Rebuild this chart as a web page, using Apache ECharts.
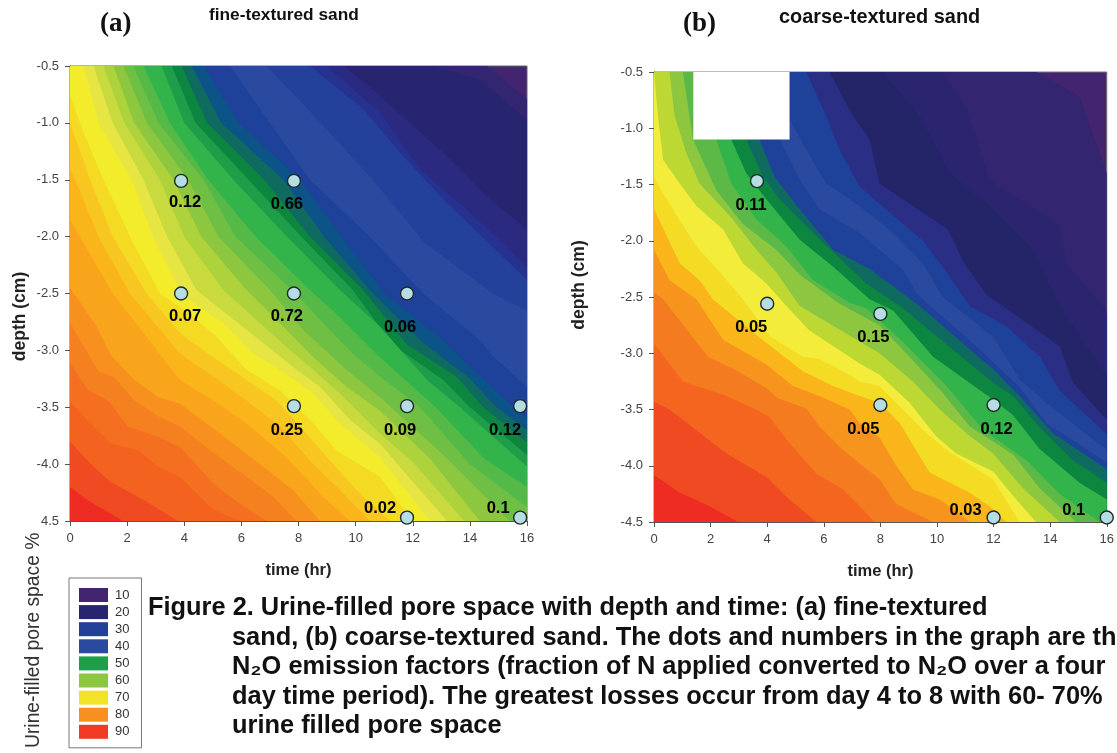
<!DOCTYPE html>
<html><head><meta charset="utf-8">
<style>html,body{margin:0;padding:0;background:#fff;overflow:hidden}#c{width:1117px;height:753px}</style>
<script src="https://cdn.jsdelivr.net/npm/echarts@6/dist/echarts.min.js"></script>
</head><body><div id="c"></div>
<script>
const timeTicks = [0,2,4,6,8,10,12,14,16];
const depthLabelsFine = ['-0.5','-1.0','-1.5','-2.0','-2.5','-3.0','-3.5','-4.0','4.5'];
const depthLabelsCoarse = ['-0.5','-1.0','-1.5','-2.0','-2.5','-3.0','-3.5','-4.0','-4.5'];
const legendLevels = ['10','20','30','40','50','60','70','80','90'];
const legendColors = ['#42246f','#272470','#233f98','#2a4aa0','#1f9e49','#8dc63f','#f3e326','#f7901e','#f03a24'];
const fineBandColors = ['#ee2c24','#f04a23','#f3621f','#f47020','#f5801f','#f7901e','#f9a51c','#fab51a','#f8c620','#f5da24','#f3ec2a','#e6e544','#c8da3d','#aed23c','#8dc63f','#6fbf44','#55b948','#32b44a','#1f9e49','#0d8640','#0f6b5f','#0c5488','#1e4199','#2a4aa0','#23409a','#273190','#2a2a80','#272470','#33256f'];
const coarseBandColors = ['#ee2c24','#f04a23','#f4661f','#f47b20','#f7941e','#fab51a','#f4dc24','#f3ec3a','#bdd833','#8dc63f','#5cb947','#32b44a','#0d8640','#0f6b5f','#1e4199','#2a4aa0','#1e4199','#2a2e85','#242468','#2b2570','#33256f'];
const topColor = '#42246f';
const fineContours = [
 [[0,-4.2],[.63,-4.32],[1.86,-4.5]],
 [[0,-3.8],[.69,-3.99],[1.39,-4.15],[2.61,-4.32],[3.78,-4.5]],
 [[0,-3.45],[.63,-3.62],[1.45,-3.82],[2.4,-3.88],[3.08,-4.02],[3.85,-4.11],[5.02,-4.4],[5.95,-4.5]],
 [[0,-3.11],[.63,-3.35],[1.33,-3.44],[2.03,-3.67],[3.08,-3.76],[3.85,-3.85],[5.02,-4.17],[5.95,-4.35],[6.9,-4.5]],
 [[0,-2.76],[.98,-3.18],[1.56,-3.24],[2.26,-3.44],[3.08,-3.58],[3.85,-3.67],[5.02,-3.9],[6.18,-4.11],[7.12,-4.29],[7.93,-4.5]],
 [[0,-2.45],[.93,-2.79],[1.45,-3.05],[2.26,-3.26],[3.08,-3.41],[3.85,-3.47],[5.25,-3.73],[6.65,-4.0],[7.82,-4.23],[8.75,-4.5]],
 [[0,-1.85],[1.5,-2.5],[2.68,-2.88],[3.85,-3.26],[5.02,-3.44],[6.18,-3.64],[7.58,-3.94],[8.87,-4.29],[9.8,-4.5]],
 [[0,-1.41],[.18,-1.5],[1.0,-2.0],[2.1,-2.5],[3.85,-3.03],[5.02,-3.23],[6.18,-3.44],[7.35,-3.67],[8.52,-4.0],[9.45,-4.23],[10.5,-4.5]],
 [[0,-1.0],[.7,-1.5],[1.5,-2.0],[2.68,-2.5],[3.85,-2.85],[5.02,-3.06],[6.18,-3.26],[7.23,-3.44],[8.17,-3.7],[9.22,-4.0],[10.03,-4.23],[11.2,-4.5]],
 [[0,-.76],[.5,-1.1],[1.17,-1.5],[2.2,-2.05],[3.15,-2.5],[4.2,-2.68],[5.13,-2.88],[6.18,-3.17],[7.35,-3.35],[8.4,-3.61],[9.33,-3.88],[10.85,-4.11],[12.0,-4.5]],
 [[.47,-.5],[1.0,-1.0],[2.16,-1.5],[2.9,-2.0],[3.91,-2.5],[4.67,-2.65],[5.37,-2.76],[6.42,-3.03],[7.35,-3.17],[8.52,-3.38],[9.45,-3.64],[10.85,-3.94],[12.6,-4.5]],
 [[.82,-.5],[1.5,-1.0],[2.57,-1.5],[3.4,-2.0],[4.43,-2.47],[5.48,-2.68],[6.65,-2.91],[7.93,-3.17],[8.75,-3.32],[9.8,-3.61],[10.85,-3.82],[13.2,-4.5]],
 [[1.17,-.5],[1.9,-1.0],[3.15,-1.5],[4.0,-2.0],[5.37,-2.47],[6.3,-2.68],[7.58,-2.97],[8.52,-3.17],[9.45,-3.38],[10.85,-3.73],[12,-3.98],[13.8,-4.5]],
 [[1.52,-.5],[2.25,-1.0],[3.62,-1.5],[4.6,-2.0],[6.18,-2.47],[7.23,-2.73],[8.52,-3.06],[9.68,-3.32],[10.85,-3.53],[12.6,-3.95],[14.35,-4.5]],
 [[1.87,-.5],[2.7,-1.0],[4.14,-1.5],[5.2,-2],[7.0,-2.47],[8.17,-2.82],[9.68,-3.17],[10.85,-3.41],[13.2,-3.95],[15.4,-4.5]],
 [[2.22,-.5],[3.1,-1.0],[4.67,-1.5],[5.8,-2],[7.9,-2.5],[8.75,-2.73],[9.9,-3.03],[10.85,-3.23],[12.25,-3.5],[14,-4],[16,-4.38]],
 [[2.57,-.5],[3.5,-1],[4.84,-1.5],[6.5,-2],[8.4,-2.47],[9.33,-2.68],[10.85,-3.06],[12.8,-3.5],[14.5,-3.95],[16,-4.2]],
 [[3.21,-.5],[4,-1],[5.72,-1.5],[7.6,-2],[9.45,-2.47],[10.85,-2.79],[12.5,-3.26],[13.65,-3.5],[16,-4.02]],
 [[3.56,-.5],[4.4,-1],[6.25,-1.5],[8.1,-2],[9.9,-2.47],[11.3,-2.95],[13.07,-3.26],[14,-3.5],[16,-3.92]],
 [[3.91,-.5],[4.8,-1],[6.8,-1.5],[8.4,-2],[10.26,-2.47],[11.8,-2.95],[13.53,-3.23],[14.47,-3.5],[16,-3.81]],
 [[4.26,-.5],[5.3,-1],[7.47,-1.5],[8.9,-2],[10.6,-2.5],[12.3,-2.92],[14,-3.25],[14.92,-3.5],[16,-3.7]],
 [[4.67,-.5],[5.9,-1],[8.05,-1.5],[9.5,-2],[11,-2.5],[13,-2.9],[15.5,-3.5],[16,-3.6]],
 [[5.6,-.5],[7,-1],[8.4,-1.5],[10.5,-2],[12.37,-2.5],[14.3,-2.9],[14.8,-3.05],[16,-3.32]],
 [[6.88,-.5],[8.6,-.95],[10.6,-1.5],[12.4,-2.05],[14.8,-2.5],[16,-2.65]],
 [[8.4,-.5],[10.27,-.88],[11.55,-1.26],[13.18,-1.7],[16,-2.38]],
 [[9.0,-.5],[10.85,-.91],[12.25,-1.41],[13.88,-1.76],[16,-2.26]],
 [[9.57,-.5],[10.85,-.76],[12.02,-1.03],[13.18,-1.29],[14.35,-1.59],[16,-1.94]],
 [[12.6,-.5],[14.35,-.62],[16,-.97]],
 [[14.6,-.5],[16,-.79]]
];
const coarseContours = [
 [[0,-4.08],[.91,-4.24],[1.97,-4.36],[2.97,-4.5]],
 [[0,-3.43],[.55,-3.5],[2.56,-3.89],[3.97,-4.1],[4.79,-4.3],[5.74,-4.5]],
 [[0,-2.91],[1.02,-3.25],[2.56,-3.38],[3.62,-3.5],[4.09,-3.57],[4.79,-3.8],[5.74,-4.07],[6.68,-4.21],[7.27,-4.36],[7.8,-4.5]],
 [[0,-2.46],[.32,-2.52],[1.91,-3.03],[2.91,-3.15],[3.97,-3.31],[4.38,-3.4],[5.38,-3.49],[5.85,-3.65],[6.68,-3.86],[7.27,-3.98],[7.97,-4.12],[8.56,-4.34],[9.2,-4.42],[9.86,-4.5]],
 [[0,-2.08],[.55,-2.35],[1.5,-2.52],[2.44,-2.88],[3.97,-3.1],[4.91,-3.29],[5.85,-3.38],[6.91,-3.5],[7.27,-3.62],[7.97,-3.75],[8.56,-4.0],[9.15,-4.21],[10.1,-4.3],[11.16,-4.5]],
 [[0,-1.72],[.91,-2.2],[1.61,-2.35],[2.08,-2.52],[3.73,-2.86],[5.26,-3.16],[6.33,-3.29],[7.27,-3.38],[7.97,-3.44],[8.68,-3.62],[9.74,-4.06],[11.16,-4.24],[11.86,-4.36],[12.45,-4.5]],
 [[0,-1.43],[.32,-1.58],[1.5,-2.05],[2.3,-2.27],[3.14,-2.52],[4.1,-2.85],[5.26,-3.03],[5.85,-3.05],[6.91,-3.19],[7.27,-3.25],[7.97,-3.29],[8.8,-3.5],[9.5,-3.68],[10.33,-3.86],[11.98,-4.12],[12.92,-4.5]],
 [[.05,-.5],[.14,-.89],[.32,-1.28],[.91,-1.49],[1.5,-1.69],[2.44,-1.9],[3.14,-2.2],[3.97,-2.38],[4.68,-2.58],[5.5,-2.8],[7.27,-3.09],[7.97,-3.19],[9.03,-3.44],[9.98,-3.74],[10.68,-3.89],[11.98,-4.05],[12.8,-4.3],[13.5,-4.5]],
 [[.55,-.5],[.73,-.89],[1.14,-1.22],[1.61,-1.49],[2.79,-1.81],[3.62,-2.08],[4.32,-2.28],[5.15,-2.58],[7.97,-3.0],[9.15,-3.25],[10.1,-3.5],[11.04,-3.71],[11.98,-3.89],[13.04,-4.2],[14.34,-4.5]],
 [[1.02,-.5],[1.38,-1.1],[2.2,-1.55],[3.14,-1.85],[4.32,-2.08],[5.15,-2.3],[6.5,-2.55],[7.97,-2.75],[9.03,-3.03],[10.2,-3.35],[11.16,-3.65],[12.69,-3.9],[13.63,-4.2],[14.92,-4.5]],
 [[1.6,-.5],[2.2,-1.1],[2.73,-1.49],[3.62,-1.81],[4.68,-2.05],[5.62,-2.35],[6.91,-2.55],[7.5,-2.6],[8.8,-2.9],[10.33,-3.29],[11.63,-3.68],[13.16,-3.95],[14.34,-4.25],[15.75,-4.5]],
 [[2.2,-.5],[2.73,-1.1],[3.26,-1.4],[3.97,-1.63],[5.15,-1.99],[6.33,-2.23],[7.62,-2.52],[8.45,-2.62],[9.86,-3.03],[11.98,-3.41],[12.69,-3.55],[13.63,-3.85],[15.04,-4.15],[16,-4.3]],
 [[2.8,-.5],[3.26,-1.1],[3.85,-1.43],[4.44,-1.63],[5.62,-1.93],[7.5,-2.38],[8.8,-2.6],[10.57,-2.97],[11.98,-3.26],[12.69,-3.38],[13.63,-3.66],[14.8,-3.95],[16,-4.15]],
 [[3.3,-.5],[3.73,-1.1],[4.26,-1.43],[5.15,-1.72],[6.33,-2.08],[7.62,-2.25],[9.39,-2.58],[11.04,-2.94],[11.98,-3.14],[12.92,-3.38],[14.1,-3.71],[16,-4.03]],
 [[3.9,-.5],[4.44,-1.1],[5.15,-1.46],[5.85,-1.72],[7.27,-1.93],[8.8,-2.26],[9.27,-2.46],[9.62,-2.55],[11.27,-2.91],[12.92,-3.3],[13.86,-3.62],[16,-3.97]],
 [[4.5,-.5],[4.79,-.92],[5.38,-1.19],[6.09,-1.49],[7.27,-1.69],[8.45,-1.93],[9.5,-2.2],[10.2,-2.5],[11.98,-2.85],[12.92,-3.23],[13.86,-3.44],[16,-3.86]],
 [[5.38,-.5],[6.09,-.89],[6.56,-1.19],[7.27,-1.52],[9.5,-2.0],[10.2,-2.23],[11.16,-2.58],[12.45,-2.76],[13.63,-3.03],[14.34,-3.33],[16,-3.72]],
 [[6.2,-.5],[7.03,-.89],[7.62,-1.1],[7.97,-1.49],[10.39,-1.9],[10.92,-2.18],[11.74,-2.48],[12.33,-2.58],[14.34,-2.94],[14.8,-3.26],[16,-3.59]],
 [[8.09,-.5],[9.39,-.89],[10.45,-1.4],[11.98,-1.72],[13.39,-2.08],[14.1,-2.46],[14.34,-2.58],[16,-3.2]],
 [[10.2,-.5],[11.04,-.81],[11.86,-1.46],[14.34,-1.86],[14.57,-2.2],[15.87,-2.58],[16,-2.65]],
 [[13.51,-.5],[15.04,-.72],[16,-1.4]]
];
const finePoints = [[3.89,-1.51],[7.84,-1.51],[3.89,-2.5],[7.84,-2.5],[11.8,-2.5],[7.84,-3.49],[11.8,-3.49],[15.76,-3.49],[11.8,-4.47],[15.76,-4.47]];
const fineEmission = ['0.12','0.66','0.07','0.72','0.06','0.25','0.09','0.12','0.02','0.1'];
const coarsePoints = [[3.64,-1.47],[4.0,-2.56],[8.0,-2.65],[8.0,-3.46],[12.0,-3.46],[12.0,-4.46],[16.0,-4.46]];
const coarseEmission = ['0.11','0.05','0.15','0.05','0.12','0.03','0.1'];
const fineLabelOffsets = [[4,22],[-7,24],[4,23],[-7,23],[-7,34],[-7,24],[-7,24],[-15,24],[-27,-9],[-22,-9]];
const coarseLabelOffsets = [[-6,24],[-16,24],[-7,24],[-17,24],[3,24],[-28,-7],[-33,-7]];
const coarseMissingBlock = [[1.39,-0.48],[4.79,-1.1]];
const captionLines = [
 'Figure 2. Urine-filled pore space with depth and time: (a) fine-textured',
 'sand, (b) coarse-textured sand. The dots and numbers in the graph are the',
 'N\u2082O emission factors (fraction of N applied converted to N\u2082O over a four',
 'day time period). The greatest losses occur from day 4 to 8 with 60- 70%',
 'urine filled pore space'
];

const sans = '"Liberation Sans", Arial, sans-serif';
const chart = echarts.init(document.getElementById('c'), null, {renderer:'canvas'});

function axesFor(i, depthLabels, yNameGap, namePadding){
  return {
    x:{gridIndex:i,type:'value',min:0,max:16,interval:2,name:'time (hr)',nameLocation:'middle',nameGap:41,
       nameTextStyle:{fontFamily:sans,fontWeight:'bold',fontSize:16.5,color:'#222'},
       axisLine:{onZero:false,lineStyle:{color:'#555',width:1}},axisTick:{length:5,lineStyle:{color:'#555'}},
       axisLabel:{fontFamily:sans,fontSize:13,color:'#444',margin:11,formatter:v=>String(timeTicks[v/2])},splitLine:{show:false}},
    y:{gridIndex:i,type:'value',min:-4.5,max:-0.5,interval:0.5,name:'depth (cm)',nameLocation:'middle',nameGap:yNameGap,
       nameTextStyle:{fontFamily:sans,fontWeight:'bold',fontSize:17.5,color:'#222',padding:namePadding},
       axisLine:{onZero:false,lineStyle:{color:'#555',width:1}},axisTick:{length:5,lineStyle:{color:'#555'}},
       axisLabel:{fontFamily:sans,fontSize:13,color:'#444',margin:11,
         formatter:v=>depthLabels[Math.round((-0.5-v)/0.5)]},splitLine:{show:false}}
  };
}
function bandSeries(contours, colors, i){
  const out=[];
  for(let k=contours.length-1;k>=0;k--){
    const c=contours[k];
    const line=c[0][0]>0?[[0,c[0][1]]].concat(c):c;
    out.push({type:'line',xAxisIndex:i,yAxisIndex:i,data:line,showSymbol:false,symbol:'none',silent:true,
      smooth:false,
      lineStyle:{width:0},areaStyle:{color:colors[k],opacity:1,origin:'start'},z:2,animation:false});
  }
  return out;
}
function pointSeries(points, labels, offsets, i){
  return {type:'scatter',xAxisIndex:i,yAxisIndex:i,clip:false,symbolSize:13,z:30,silent:true,
    itemStyle:{color:'#b5dde3',borderColor:'#1f2a2a',borderWidth:1.4,opacity:1},
    data:points.map((p,k)=>({value:p,label:{show:true,position:'inside',formatter:labels[k],offset:offsets[k],
      fontFamily:sans,fontWeight:'bold',fontSize:16.5,color:'#000'}}))};
}
const axA=axesFor(0,depthLabelsFine,41,[0,46,0,0]), axB=axesFor(1,depthLabelsCoarse,66,[0,0,0,24]);
const legendDummies=legendLevels.map((n,k)=>({name:n,type:'line',xAxisIndex:0,yAxisIndex:0,data:[],color:legendColors[k],
  itemStyle:{color:legendColors[k]},lineStyle:{width:0},symbol:'rect'}));

const blockSeries={type:'scatter',xAxisIndex:1,yAxisIndex:1,data:[],clip:false,z:20,silent:true,
  markArea:{silent:true,z:20,itemStyle:{color:'#fff',opacity:1,borderWidth:0},
    data:[[{coord:coarseMissingBlock[0]},{coord:coarseMissingBlock[1]}]]}};

const captionGraphics=captionLines.map((t,k)=>({type:'text',left:k===0?148:232,top:595.5+k*29.6,silent:true,
  style:{text:t,font:'bold 25.4px '+sans,fill:'#111'}}));

chart.setOption({
  animation:false,
  backgroundColor:'#fff',
  title:[
    {text:'(a)',left:95,top:6,textStyle:{fontFamily:'"Liberation Serif",serif',fontWeight:'bold',fontSize:27,color:'#111'}},
    {text:'fine-textured sand',left:204,top:2,textStyle:{fontFamily:sans,fontWeight:'bold',fontSize:17.3,color:'#111'}},
    {text:'(b)',left:678,top:6,textStyle:{fontFamily:'"Liberation Serif",serif',fontWeight:'bold',fontSize:27,color:'#111'}},
    {text:'coarse-textured sand',left:774,top:3,textStyle:{fontFamily:sans,fontWeight:'bold',fontSize:19.9,color:'#111'}}
  ],
  grid:[
    {left:70,top:66,width:457,height:455,show:true,backgroundColor:topColor,borderColor:'#666',borderWidth:1},
    {left:654,top:72,width:453,height:450,show:true,backgroundColor:topColor,borderColor:'#777',borderWidth:1}
  ],
  xAxis:[axA.x,axB.x],
  yAxis:[axA.y,axB.y],
  legend:{show:true,orient:'vertical',left:69,top:578,itemWidth:29,itemHeight:14,itemGap:3.1,padding:[10,12,9,10],
    icon:'rect',selectedMode:false,borderColor:'#777',borderWidth:1,
    textStyle:{fontFamily:sans,fontSize:13,color:'#333',padding:[0,0,0,2]},
    data:legendLevels},
  series:[].concat(
    bandSeries(fineContours,fineBandColors,0),
    bandSeries(coarseContours,coarseBandColors,1),
    legendDummies,
    [blockSeries,pointSeries(finePoints,fineEmission,fineLabelOffsets,0),pointSeries(coarsePoints,coarseEmission,coarseLabelOffsets,1)]
  ),
  graphic:[
    {type:'text',x:24,y:748,rotation:Math.PI/2,silent:true,style:{text:'Urine-filled pore space %',font:'19.3px '+sans,fill:'#333',textAlign:'left',textVerticalAlign:'top'}}
  ].concat(captionGraphics)
});
</script></body></html>
